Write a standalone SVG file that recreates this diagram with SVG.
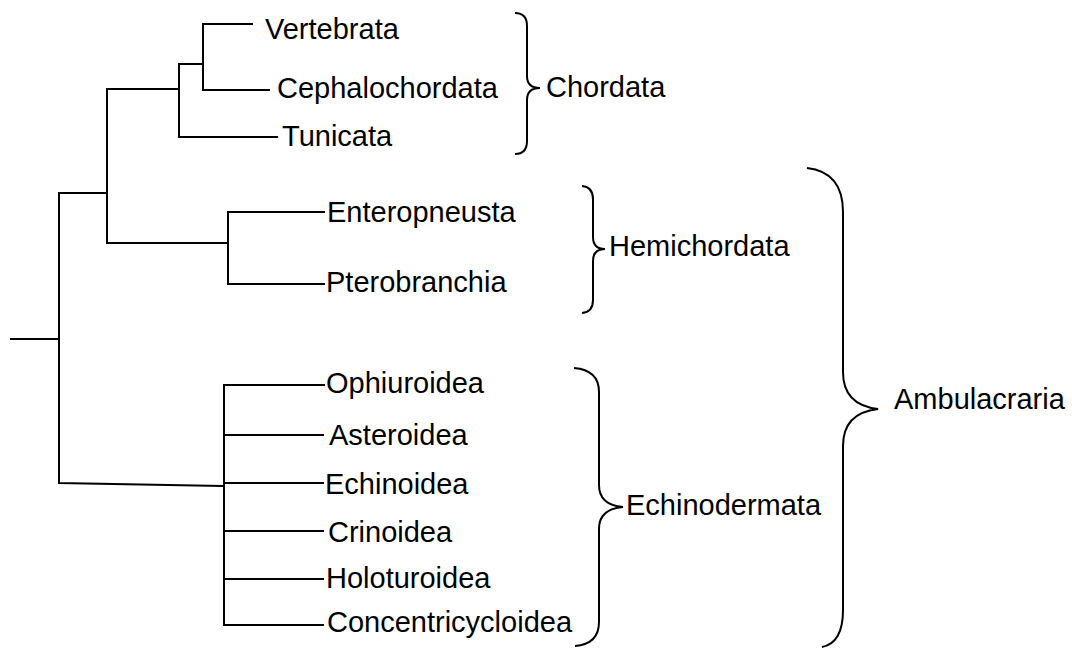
<svg xmlns="http://www.w3.org/2000/svg" width="1072" height="648" viewBox="0 0 1072 648">
<style>
.e{fill:none;stroke:#000;stroke-width:2;stroke-linecap:square}
.b{fill:none;stroke:#000;stroke-width:2}
text{font-family:"Liberation Sans",Arial,sans-serif;fill:#000;font-size:29px}
</style>
<rect width="1072" height="648" fill="#fff"/>
<g id="connectors">
<path class="e" d="M11,339 H59 M59,193 V483 M59,193 H107 M59,483 L222,486"/>
<path class="e" d="M107,89 V243 M107,89 H179 M107,243 H228"/>
<path class="e" d="M179,64 V137 M179,64 H203 M179,137 H277"/>
<path class="e" d="M203,24 V90 M203,24 H252 M203,90 H269"/>
<path class="e" d="M228,212 V284 M228,212 H324 M228,284 H324"/>
<path class="e" d="M224,385 V625 M224,385 H324 M226,435 H323 M226,483 H323 M226,531 H323 M226,579 H323 M224,625 H323"/>
</g>
<g id="n-vertebrata"><text x="265" y="39">Vertebrata</text></g>
<g id="n-cephalochordata"><text x="277" y="98">Cephalochordata</text></g>
<g id="n-tunicata"><text x="282" y="146">Tunicata</text></g>
<g id="n-enteropneusta"><text x="327" y="222">Enteropneusta</text></g>
<g id="n-pterobranchia"><text x="326" y="292">Pterobranchia</text></g>
<g id="n-ophiuroidea"><text x="326" y="393">Ophiuroidea</text></g>
<g id="n-asteroidea"><text x="329" y="445">Asteroidea</text></g>
<g id="n-echinoidea"><text x="325" y="494">Echinoidea</text></g>
<g id="n-crinoidea"><text x="328" y="542">Crinoidea</text></g>
<g id="n-holoturoidea"><text x="326" y="588">Holoturoidea</text></g>
<g id="n-concentricycloidea"><text x="327" y="632">Concentricycloidea</text></g>
<g id="chordata">
<path class="b" d="M515,13 Q527,13 527,26 V76 Q527,88 540,88 Q527,88 527,100 V141 Q527,154 515,154"/>
<text x="546" y="97">Chordata</text>
</g>
<g id="hemichordata">
<path class="b" d="M582,186 Q593,187 593,199 V237 Q593,249 605,249 Q593,249 593,261 V300 Q593,312 582,313"/>
<text x="609" y="256">Hemichordata</text>
</g>
<g id="echinodermata">
<path class="b" d="M574,368 Q599,370 599,392 V485 Q599,505 623,507 Q599,509 599,529 V622 Q599,644 575,646"/>
<text x="626" y="515">Echinodermata</text>
</g>
<g id="ambulacraria">
<path class="b" d="M807,168 Q843,172 843,212 V372 Q843,405 878,409 Q843,413 843,446 V610 Q843,643 822,647"/>
<text x="894" y="409">Ambulacraria</text>
</g>
</svg>
